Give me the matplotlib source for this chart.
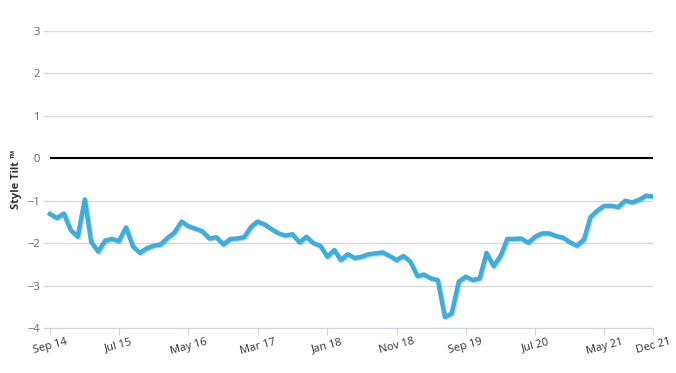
import matplotlib
matplotlib.use("Agg")
from matplotlib import pyplot as plt
import matplotlib.patheffects as pe
import numpy as np
import pandas as pd

# monthly style tilt readings, Sep 2014 .. Dec 2021
tilt = [-1.31, -1.41, -1.30, -1.69, -1.85, -0.97, -1.97, -2.20, -1.94, -1.90,
        -1.95, -1.63, -2.08, -2.23, -2.12, -2.06, -2.03, -1.87, -1.75, -1.49,
        -1.60, -1.66, -1.72, -1.89, -1.86, -2.03, -1.90, -1.89, -1.86, -1.61,
        -1.49, -1.56, -1.67, -1.77, -1.82, -1.79, -1.98, -1.85, -2.00, -2.06,
        -2.32, -2.16, -2.40, -2.26, -2.35, -2.32, -2.26, -2.24, -2.22, -2.30,
        -2.40, -2.30, -2.44, -2.78, -2.74, -2.83, -2.87, -3.74, -3.66, -2.91,
        -2.79, -2.87, -2.83, -2.23, -2.54, -2.30, -1.90, -1.90, -1.89, -1.99,
        -1.85, -1.77, -1.77, -1.83, -1.87, -1.98, -2.06, -1.91, -1.39, -1.23,
        -1.12, -1.12, -1.15, -1.00, -1.04, -0.98, -0.88, -0.90]
dates = pd.date_range("2014-09-01", periods=len(tilt), freq="MS")

tick_dates = ["2014-09", "2015-07", "2016-05", "2017-03", "2018-01",
              "2018-11", "2019-09", "2020-07", "2021-05", "2021-12"]
tick_labels = ["Sep 14", "Jul 15", "May 16", "Mar 17", "Jan 18",
               "Nov 18", "Sep 19", "Jul 20", "May 21", "Dec 21"]
y_ticks = [-4, -3, -2, -1, 0, 1, 2, 3]

plt.rcParams["font.family"] = ["Open Sans", "DejaVu Sans"]

fig = plt.figure(figsize=(6.76, 3.73), dpi=100)
ax = fig.add_axes([44 / 676, 1 - 328 / 373, (653 - 44) / 676, (328 - 31) / 373])

for y in y_ticks:
    if y != 0:
        ax.axhline(y, color="#d9d9d9", lw=1.0, zorder=1)
ax.hlines(0, dates[0], dates[-1], color="black", lw=1.5, zorder=2)

ax.plot(dates, tilt, color="#3aafdf", lw=3.2, solid_joinstyle="round", zorder=3,
        path_effects=[pe.SimpleLineShadow(offset=(0.8, -0.8), shadow_color="gray", alpha=0.35),
                      pe.Normal()])

ax.set_xlim(dates[0] - pd.Timedelta(days=26), dates[-1])
ax.set_ylim(-4, 3)
ax.set_yticks(y_ticks)
ax.set_yticklabels([str(v).replace("-", "\u2212") for v in y_ticks])
ax.set_xticks(pd.to_datetime(tick_dates))
ax.set_xticklabels(tick_labels, rotation=15, ha="center")

for s in ["top", "right", "left"]:
    ax.spines[s].set_visible(False)
ax.spines["bottom"].set_color("#ccd6eb")
ax.tick_params(axis="y", length=0, pad=3, labelsize=8, labelcolor="#666666")
ax.tick_params(axis="x", length=5, color="#ccd6eb", pad=1, labelsize=8, labelcolor="#333333")

ax.set_ylabel("Style Tilt \u2122", fontsize=8, fontweight="bold", color="#333333", labelpad=4)

fig.savefig("out.png", dpi=100)
